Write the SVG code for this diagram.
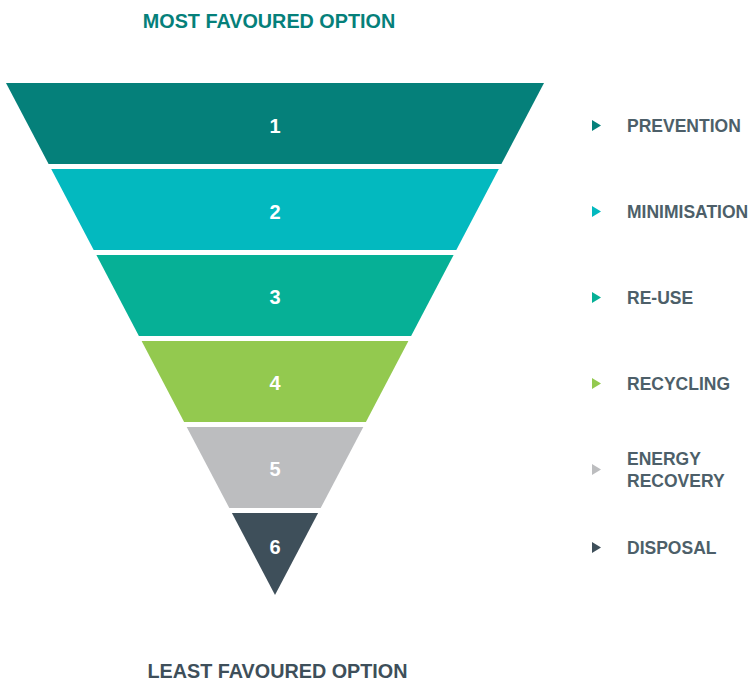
<svg xmlns="http://www.w3.org/2000/svg" width="752" height="680" viewBox="0 0 752 680">
<style>
text{font-family:"Liberation Sans",Arial,sans-serif;font-weight:bold}
.num{fill:#fff;font-size:20px;text-anchor:middle}
.lbl{fill:#4d5f69;font-size:17.5px}
.ttl{font-size:19.8px;text-anchor:middle}
</style>
<rect width="752" height="680" fill="#fff"/>
<text class="ttl" x="269" y="28" fill="#05807a">MOST FAVOURED OPTION</text>
<text class="ttl" x="277.5" y="678" fill="#3e4f5a">LEAST FAVOURED OPTION</text>
<g id="band1"><polygon points="6,83 544,83 501.4,164 48.6,164" fill="#05807a"/><text class="num" x="275" y="133">1</text></g>
<g id="band2"><polygon points="51.2,169 498.8,169 456.3,250 93.7,250" fill="#03b9bf"/><text class="num" x="275" y="219">2</text></g>
<g id="band3"><polygon points="96.4,255 453.6,255 411.1,336 138.9,336" fill="#06b096"/><text class="num" x="275" y="304">3</text></g>
<g id="band4"><polygon points="141.6,341 408.4,341 365.9,422 184.1,422" fill="#93c94f"/><text class="num" x="275" y="390">4</text></g>
<g id="band5"><polygon points="186.7,427 363.3,427 320.7,508 229.3,508" fill="#bcbdbf"/><text class="num" x="275" y="476">5</text></g>
<g id="band6"><polygon points="231.9,513 318.1,513 275,595" fill="#3e4f5a"/><text class="num" x="275" y="554">6</text></g>
<g id="legend">
<polygon points="592,120 601,125.5 592,131" fill="#05807a"/><text class="lbl" x="627" y="132">PREVENTION</text>
<polygon points="592,206 601,211.5 592,217" fill="#03b9bf"/><text class="lbl" x="627" y="218">MINIMISATION</text>
<polygon points="592,292 601,297.5 592,303" fill="#06b096"/><text class="lbl" x="627" y="304">RE-USE</text>
<polygon points="592,378 601,383.5 592,389" fill="#93c94f"/><text class="lbl" x="627" y="390">RECYCLING</text>
<polygon points="592,464 601,469.5 592,475" fill="#bcbdbf"/><text class="lbl" x="627" y="465">ENERGY</text><text class="lbl" x="627" y="487">RECOVERY</text>
<polygon points="592,542 601,547.5 592,553" fill="#3e4f5a"/><text class="lbl" x="627" y="554">DISPOSAL</text>
</g>
</svg>
